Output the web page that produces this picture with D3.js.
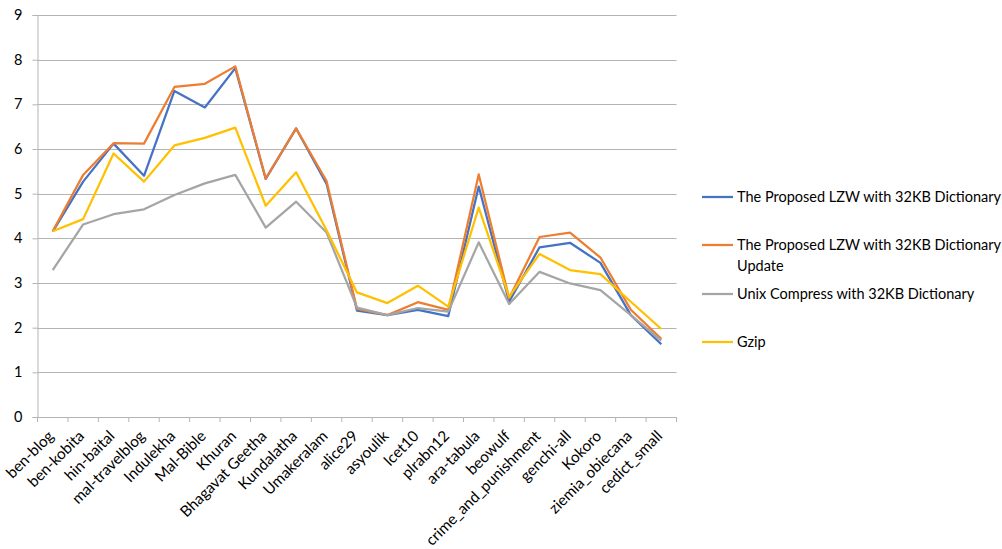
<!DOCTYPE html>
<html><head><meta charset="utf-8">
<script src="https://cdn.jsdelivr.net/npm/d3@7"></script>
<style>body{margin:0;background:#fff}svg{display:block}text{font-family:Lato,"Open Sans",sans-serif;fill:#000}</style>
</head><body><svg id="c" width="1002" height="549"></svg>
<script>
const categories = ["ben-blog","ben-kobita","hin-baital","mal-travelblog","Indulekha","Mal-Bible","Khuran","Bhagavat Geetha","Kundalatha","Umakeralam","alice29","asyoulik","lcet10","plrabn12","ara-tabula","beowulf","crime_and_punishment","genchi-all","Kokoro","ziemia_obiecana","cedict_small"];
const seriesNames = ["The Proposed LZW with 32KB Dictionary","The Proposed LZW with 32KB Dictionary Update","Unix Compress with 32KB Dictionary","Gzip"];
const lzw = [4.15,5.27,6.12,5.40,7.30,6.93,7.81,5.33,6.46,5.22,2.38,2.28,2.40,2.26,5.16,2.58,3.80,3.90,3.45,2.28,1.63];
const lzwUpdate = [4.16,5.42,6.13,6.12,7.39,7.46,7.85,5.34,6.46,5.28,2.42,2.28,2.57,2.40,5.43,2.66,4.03,4.13,3.57,2.40,1.75];
const unixCompress = [3.29,4.31,4.54,4.65,4.97,5.23,5.42,4.24,4.82,4.13,2.45,2.28,2.44,2.36,3.91,2.53,3.25,2.99,2.84,2.28,1.71];
const gzip = [4.16,4.43,5.90,5.27,6.08,6.25,6.48,4.73,5.48,4.18,2.79,2.55,2.94,2.47,4.69,2.69,3.65,3.29,3.20,2.58,1.97];
const yTicks = [0,1,2,3,4,5,6,7,8,9];
const colors = ["#4472C4","#ED7D31","#A5A5A5","#FFC000"];
const allSeries = [lzw, lzwUpdate, unixCompress, gzip];

const svg = d3.select("#c");
const L = 37.5, R = 676.5, T = 15, B = 417;
const x = d3.scaleBand().domain(categories).range([L, R]);
const y = d3.scaleLinear().domain([0, 9]).range([B, T]);
const grid = "#b4b4b4";
const fs = 14.5;

svg.append("g").selectAll("line").data(yTicks.filter(d => d > 0)).join("line")
  .attr("x1", L).attr("x2", R).attr("y1", d => Math.round(y(d)) + 0.5).attr("y2", d => Math.round(y(d)) + 0.5)
  .attr("stroke", grid).attr("stroke-width", 1);

const ya = svg.append("g").attr("transform", `translate(${L},0)`)
  .call(d3.axisLeft(y).tickValues(yTicks).tickSize(5).tickPadding(10).tickFormat(d3.format("d")));
ya.select(".domain").attr("stroke", grid);
ya.selectAll(".tick line").attr("stroke", grid);
ya.selectAll("text").attr("font-size", fs).style("font-family", 'Lato,sans-serif');

const xa = svg.append("g").attr("transform", `translate(0,${B})`)
  .call(d3.axisBottom(x).tickSize(0).tickFormat(""));
xa.select(".domain").attr("stroke", grid);
const edges = categories.map((c) => x(c)).concat([R]);
xa.selectAll(".edge").data(edges).join("line").attr("class", "edge")
  .attr("x1", d => d).attr("x2", d => d).attr("y1", 0).attr("y2", 5).attr("stroke", grid);
xa.selectAll(".lbl").data(categories).join("text").attr("class", "lbl")
  .attr("text-anchor", "end").attr("font-size", 15.3)
  .attr("transform", d => `translate(${x(d) + x.bandwidth() / 2 + 2},${20}) rotate(-45)`)
  .text(d => d);

const line = d3.line().x((d, i) => x(categories[i]) + x.bandwidth() / 2).y(d => y(d));
svg.append("g").selectAll("path").data(allSeries).join("path")
  .attr("d", d => line(d)).attr("fill", "none")
  .attr("stroke", (d, i) => colors[i]).attr("stroke-width", 2.25).attr("stroke-linejoin", "round");

const legY = [197, 245, 294, 342];
const lg = svg.append("g");
seriesNames.forEach((n, i) => {
  lg.append("line").attr("x1", 702).attr("x2", 733).attr("y1", legY[i]).attr("y2", legY[i])
    .attr("stroke", colors[i]).attr("stroke-width", 2.25);
  const t = lg.append("text").attr("x", 737).attr("y", legY[i] + 5).attr("font-size", fs);
  if (i === 1) {
    t.append("tspan").attr("x", 737).text("The Proposed LZW with 32KB Dictionary");
    t.append("tspan").attr("x", 737).attr("dy", 20.5).text("Update");
  } else t.text(n);
});
</script></body></html>
